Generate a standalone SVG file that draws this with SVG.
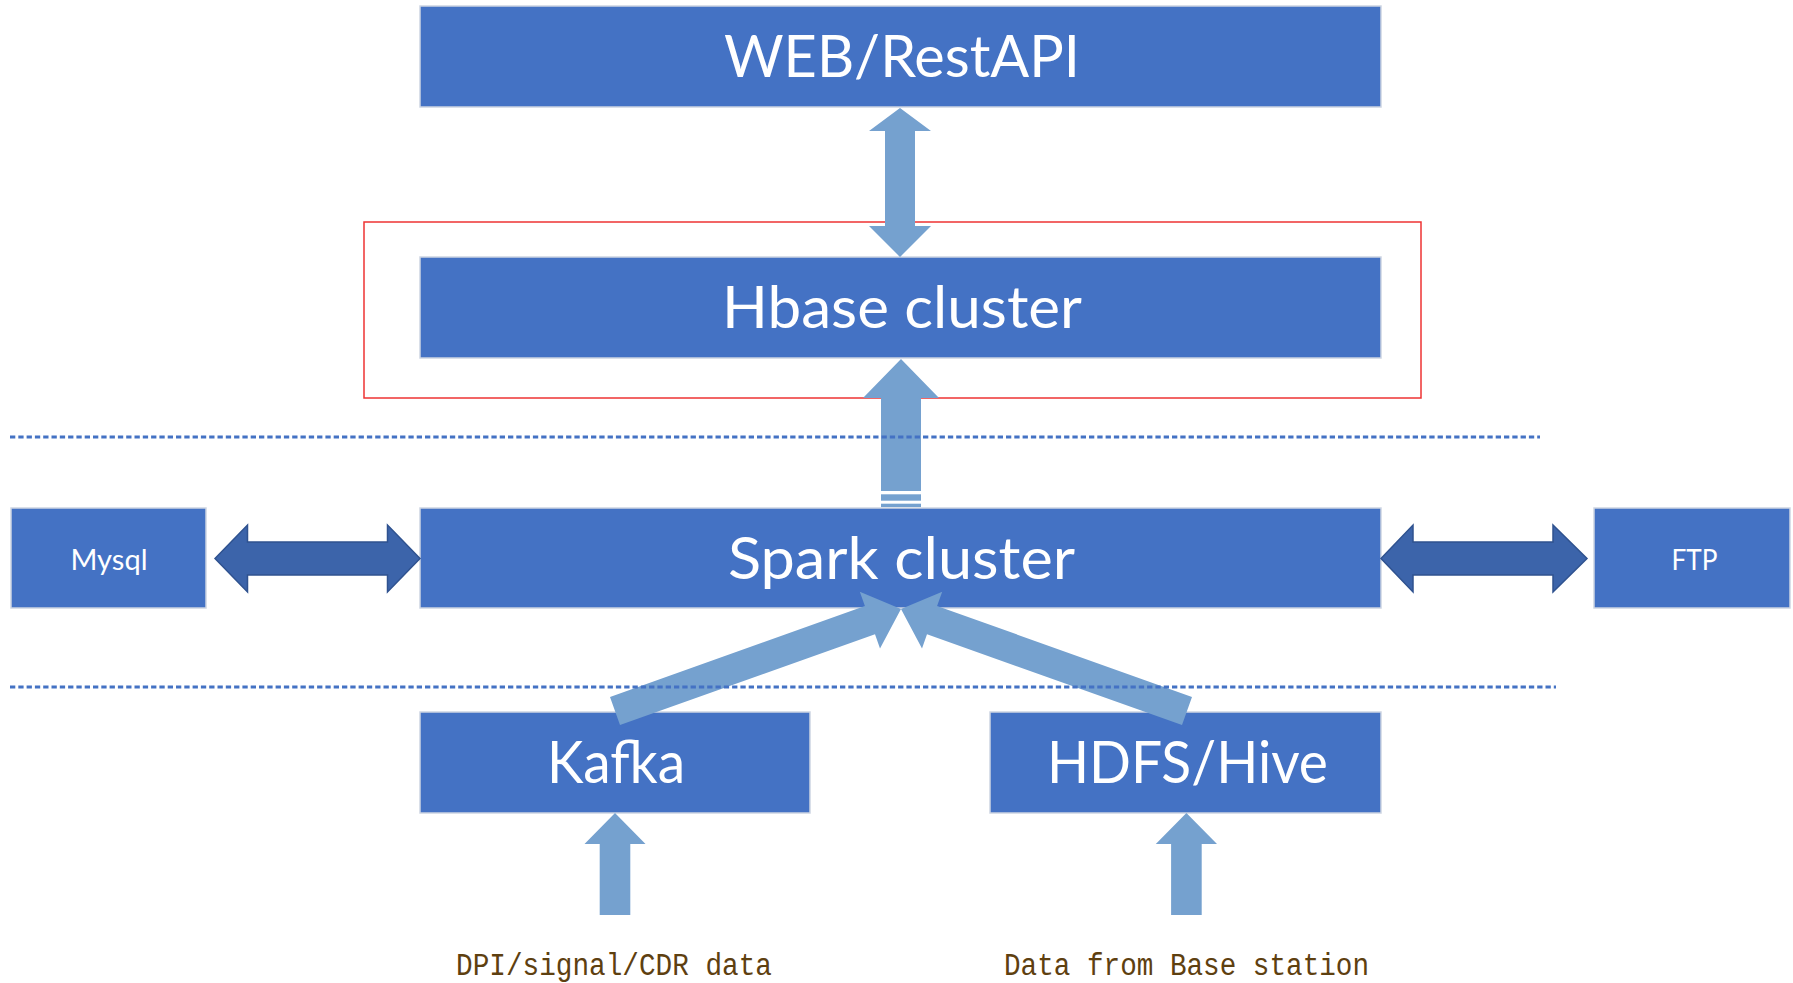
<svg xmlns="http://www.w3.org/2000/svg" width="1793" height="983" viewBox="0 0 1793 983">
<style>
.box{fill:#4472C4;stroke:#CDD5E2;stroke-width:1.5}
.big{font-family:Lato,"Liberation Sans",sans-serif;font-size:58px;fill:#FFFFFF;text-anchor:middle}
.small{font-family:Lato,"Liberation Sans",sans-serif;font-size:29px;fill:#FFFFFF;text-anchor:middle}
.lab{font-family:"Liberation Mono",monospace;font-size:31px;fill:#5E4010}
.la{fill:#75A1CF}
.da{fill:#3C64AA;stroke:#2F528F;stroke-width:1.5}
.dot{stroke:#4472C4;stroke-width:2.8;stroke-dasharray:5.3 3;fill:none}
</style>
<rect width="1793" height="983" fill="#FFFFFF"/>
<g id="hbase-frame"><rect x="364" y="222" width="1057" height="176" fill="none" stroke="#EE3333" stroke-width="1.5"/></g>
<g id="web"><rect class="box" x="420" y="6" width="961" height="101"/><text class="big" x="902" y="77" textLength="356" lengthAdjust="spacingAndGlyphs">WEB/RestAPI</text></g>
<g id="hbase"><rect class="box" x="420" y="257" width="961" height="101"/><text class="big" x="902" y="328" textLength="360" lengthAdjust="spacingAndGlyphs">Hbase cluster</text></g>
<g id="spark"><rect class="box" x="420" y="508" width="961" height="100"/><text class="big" x="901.5" y="579" textLength="347" lengthAdjust="spacingAndGlyphs">Spark cluster</text></g>
<g id="mysql"><rect class="box" x="11" y="508" width="195" height="100"/><text class="small" x="109" y="570" textLength="77" lengthAdjust="spacingAndGlyphs">Mysql</text></g>
<g id="ftp"><rect class="box" x="1594" y="508" width="196" height="100"/><text class="small" x="1694.5" y="570" textLength="46" lengthAdjust="spacingAndGlyphs">FTP</text></g>
<g id="kafka"><rect class="box" x="420" y="712" width="390" height="101"/><text class="big" x="616" y="783" textLength="138" lengthAdjust="spacingAndGlyphs">Kafka</text></g>
<g id="hdfs"><rect class="box" x="990" y="712" width="391" height="101"/><text class="big" x="1187.5" y="783" textLength="281" lengthAdjust="spacingAndGlyphs">HDFS/Hive</text></g>
<g id="label-dpi"><text class="lab" x="456" y="975" textLength="316" lengthAdjust="spacingAndGlyphs">DPI/signal/CDR data</text></g>
<g id="label-base"><text class="lab" x="1004" y="975" textLength="365" lengthAdjust="spacingAndGlyphs">Data from Base station</text></g>
<g id="connectors">
<polygon class="la" points="900,108 931,131 915,131 915,226 931,226 900,257 869,226 885,226 885,131 869,131"/>
<polygon class="la" points="901,359 939,398 921,398 921,491 881,491 881,398 863,398"/>
<rect class="la" x="881" y="494.3" width="40" height="6.4"/>
<rect class="la" x="881" y="503.7" width="40" height="3.3"/>
<polygon class="la" points="610,696.9 864.9,606 859.8,591.8 901,609 880,648.4 875,634.2 620,725.1"/>
<polygon class="la" points="1192,696.9 937.1,606 942.2,591.8 901,609 922,648.4 927,634.2 1182,725.1"/>
<polygon class="la" points="615,813 645.5,844 630.3,844 630.3,915 599.7,915 599.7,844 584.5,844"/>
<polygon class="la" points="1186.4,813 1217,844 1201.7,844 1201.7,915 1171.1,915 1171.1,844 1155.8,844"/>
<polygon class="da" points="215,558.5 247.5,525 247.5,542 387.5,542 387.5,525 420,558.5 387.5,592 387.5,575 247.5,575 247.5,592"/>
<polygon class="da" points="1381,558.5 1413,525 1413,542 1553,542 1553,525 1587,558.5 1553,592 1553,575 1413,575 1413,592"/>
</g>
<g id="separators">
<line class="dot" x1="10" y1="437" x2="1540" y2="437"/>
<line class="dot" x1="10" y1="687" x2="1556" y2="687"/>
</g>
</svg>
